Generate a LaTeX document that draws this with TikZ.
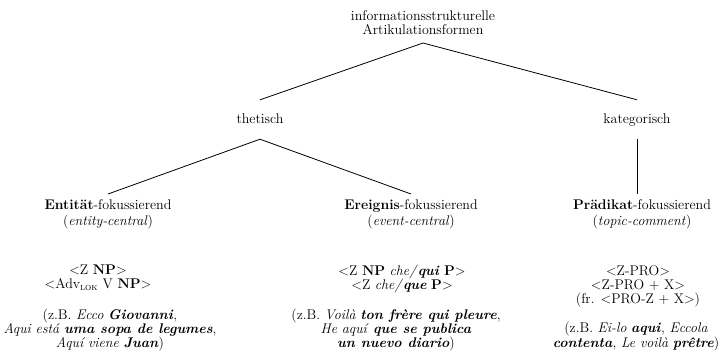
\documentclass[tikz,border=0pt]{standalone}
\usepackage{tikz}

\begin{document}
\begin{tikzpicture}[x=1pt,y=-1pt,
  every node/.style={align=center, inner xsep=0pt, font=\fontsize{14}{14}\selectfont},
  ast/.style={line width=0.8pt}]

  \useasboundingbox (0,0) rectangle (722,359);

  % Wurzel und erste Ebene
  \node[anchor=south, inner ysep=8pt] (Root) at (423,43) {informationsstrukturelle\\Artikulationsformen};
  \node[anchor=base, text height=10pt, text depth=3pt, inner ysep=13pt] (Th) at (260,123) {thetisch};
  \node[anchor=base, text height=10pt, text depth=3pt, inner ysep=13pt] (Ka) at (637,123) {kategorisch};

  % zweite Ebene
  \node[anchor=north, inner ysep=5.5pt] (En) at (108,194) {\textbf{Entität}-fokussierend\\[2pt](\textit{entity-central})};
  \node[anchor=north, inner ysep=5.5pt] (Er) at (411,194) {\textbf{Ereignis}-fokussierend\\[2pt](\textit{event-central})};
  \node[anchor=north, inner ysep=5.5pt] (Pr) at (642,194) {\textbf{Prädikat}-fokussierend\\[2pt](\textit{topic-comment})};

  \node[anchor=north, inner ysep=0pt] (EnF) at (98,265) {<Z \textbf{NP}>\\<Adv\textsubscript{\textsc{lok}} V \textbf{NP}>};
  \node[anchor=north, inner ysep=0pt] (ErF) at (402,265) {<Z \textbf{NP} \textit{che/}\textbf{\textit{qui}} \textbf{P}>\\<Z \textit{che/}\textbf{\textit{que}} \textbf{P}>};
  \node[anchor=north, inner ysep=0pt] (PrF) at (638,265) {<Z-PRO>\\<Z-PRO + X>\\(fr. <PRO-Z + X>)};

  \node[anchor=north, inner ysep=0pt] (EnX) at (110,309) {(z.B. \textit{Ecco} \textbf{\textit{Giovanni}},\\\textit{Aqui está} \textbf{\textit{uma sopa de legumes}},\\\textit{Aquí viene} \textbf{\textit{Juan}})};
  \node[anchor=north, inner ysep=0pt] (ErX) at (396,309) {(z.B. \textit{Voilà} \textbf{\textit{ton frère qui pleure}},\\\textit{He aquí} \textbf{\textit{que se publica}}\\\textbf{\textit{un nuevo diario}})};
  \node[anchor=north, inner ysep=0pt] (PrX) at (636,322) {(z.B. \textit{Ei-lo} \textbf{\textit{aqui}}, \textit{Eccola}\\\textbf{\textit{contenta}}, \textit{Le voilà} \textbf{\textit{prêtre}})};

  \draw[ast] (Root.south) -- (Th.north);
  \draw[ast] (Root.south) -- (Ka.north);
  \draw[ast] (Th.south) -- (En.north);
  \draw[ast] (Th.south) -- (Er.north);
  \draw[ast] (Ka.south) -- (Ka.south |- Pr.north);

\end{tikzpicture}
\end{document}
